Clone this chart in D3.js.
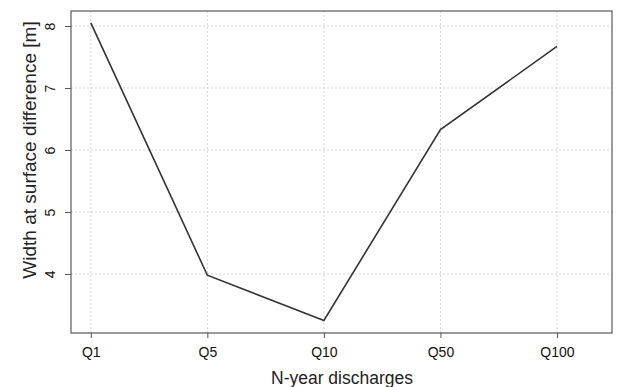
<!DOCTYPE html>
<html>
<head>
<meta charset="utf-8">
<script src="https://cdn.jsdelivr.net/npm/d3@7"></script>
<style>
  body { margin: 0; background: #fff; }
  text { font-family: "Liberation Sans", Arial, sans-serif; }
</style>
</head>
<body>
<script>
let categories = ['Q1', 'Q5', 'Q10', 'Q50', 'Q100'],
    widthDiff = [8.05, 3.98, 3.25, 6.33, 7.67],
    yTicks = [4, 5, 6, 7, 8]

let width = 619,
    height = 387,
    plotLeft = 71, plotRight = 612, plotTop = 11, plotBottom = 333

let svg = d3.select('body').append('svg')
    .attr('width', width)
    .attr('height', height)

let x = d3.scaleLinear()
    .domain([0.83, 5.472])
    .range([plotLeft, plotRight])

let y = d3.scaleLinear()
    .domain([3.048, 8.242])
    .range([plotBottom, plotTop])

// grid
svg.selectAll('.vgrid').data(categories).enter()
    .append('line')
    .attr('x1', (d, i) => x(i + 1))
    .attr('x2', (d, i) => x(i + 1))
    .attr('y1', plotTop)
    .attr('y2', plotBottom)
    .attr('stroke', '#d4d4d4')
    .attr('stroke-dasharray', '2,2')

svg.selectAll('.hgrid').data(yTicks).enter()
    .append('line')
    .attr('x1', plotLeft)
    .attr('x2', plotRight)
    .attr('y1', d => y(d))
    .attr('y2', d => y(d))
    .attr('stroke', '#d4d4d4')
    .attr('stroke-dasharray', '2,2')

// box
svg.append('rect')
    .attr('x', plotLeft)
    .attr('y', plotTop)
    .attr('width', plotRight - plotLeft)
    .attr('height', plotBottom - plotTop)
    .attr('fill', 'none')
    .attr('stroke', '#666')
    .attr('stroke-width', 1.3)

// axes
let xAxis = svg.append('g')
    .attr('transform', 'translate(0,' + plotBottom + ')')
    .call(d3.axisBottom(x)
        .tickValues([1, 2, 3, 4, 5])
        .tickFormat((d, i) => categories[i])
        .tickSize(5)
        .tickPadding(0))
xAxis.select('.domain').remove()
xAxis.selectAll('line').attr('stroke', '#555')
xAxis.selectAll('text')
    .attr('font-size', '14px')
    .attr('fill', '#111')
    .attr('dy', 0)
    .attr('y', 24)

let yAxis = svg.append('g')
    .attr('transform', 'translate(' + plotLeft + ',0)')
    .call(d3.axisLeft(y)
        .tickValues(yTicks)
        .tickFormat(d3.format('d'))
        .tickSize(6))
yAxis.select('.domain').remove()
yAxis.selectAll('line').attr('stroke', '#555')
yAxis.selectAll('text')
    .attr('font-size', '14px')
    .attr('fill', '#111')
    .attr('text-anchor', 'middle')
    .attr('dy', '0')
    .attr('x', 0)
    .attr('transform', 'translate(-16,0) rotate(-90)')

// data line
let line = d3.line()
    .x((d, i) => x(i + 1))
    .y(d => y(d))

svg.append('path')
    .datum(widthDiff)
    .attr('d', line)
    .attr('fill', 'none')
    .attr('stroke', '#333')
    .attr('stroke-width', 1.6)

// titles
svg.append('text')
    .attr('x', 342)
    .attr('y', 384)
    .attr('text-anchor', 'middle')
    .attr('font-size', '17.5px')
    .attr('fill', '#222')
    .text('N-year discharges')

svg.append('text')
    .attr('transform', 'translate(36,150) rotate(-90)')
    .attr('text-anchor', 'middle')
    .attr('font-size', '19px')
    .attr('fill', '#222')
    .text('Width at surface difference [m]')
</script>
</body>
</html>
